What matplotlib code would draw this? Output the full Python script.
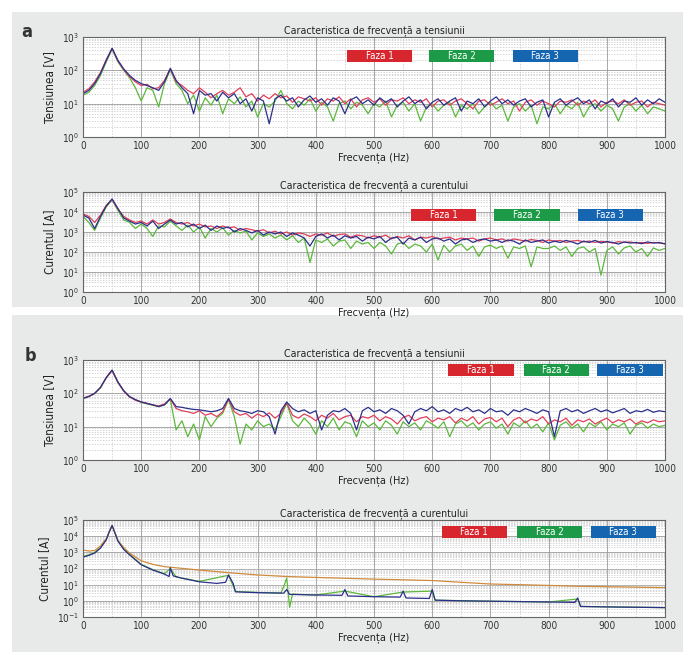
import numpy as np
import matplotlib
matplotlib.use('Agg')
import matplotlib.pyplot as plt
from matplotlib.patches import Rectangle
from matplotlib.ticker import LogLocator, MultipleLocator, NullFormatter

plt.rcParams['font.family'] = ['Liberation Sans Narrow', 'DejaVu Sans']
plt.rcParams['font.stretch'] = 'condensed'

# ---------------- data ----------------
freq_grid = np.arange(0, 1001, 10)  # FFT bins (Hz)
phase_labels = ['Faza 1', 'Faza 2', 'Faza 3']

# panel a - voltage [V]
va_f1 = [22, 28, 45, 85, 210, 450, 190, 105, 65, 45,
         35, 38, 28, 30, 50, 110, 45, 35, 25, 20,
         30, 22, 15, 20, 25, 18, 22, 30, 16, 20,
         12, 18, 14, 20, 15, 17, 11, 16, 14, 12,
         15, 9, 14, 12, 16, 10, 14, 8, 13, 15,
         11, 14, 9, 13, 12, 15, 10, 13, 11, 14,
         8, 12, 13, 9, 12, 14, 10, 7, 12, 13,
         9, 11, 14, 10, 12, 6, 11, 13, 9, 12,
         10, 8, 12, 11, 13, 9, 12, 10, 13, 8,
         11, 12, 10, 13, 9, 11, 12, 8, 11, 10,
         9]
va_f2 = [18, 22, 35, 70, 180, 430, 180, 100, 60, 30,
         12, 30, 25, 8, 40, 105, 40, 25, 10, 18,
         6, 15, 9, 18, 5, 14, 10, 16, 8, 12,
         4, 10, 8, 12, 25, 10, 7, 12, 9, 14,
         6, 11, 8, 3, 10, 12, 7, 11, 9, 5,
         10, 8, 12, 4, 9, 11, 6, 10, 3, 8,
         10, 6, 9, 11, 4, 9, 7, 10, 5, 8,
         11, 7, 9, 3, 8, 10, 6, 9, 2.5, 8,
         7, 10, 5, 9, 7, 11, 4, 8, 10, 6,
         9, 7, 3, 8, 10, 6, 9, 5, 8, 7,
         6]
va_f3 = [20, 25, 40, 80, 200, 460, 200, 110, 70, 50,
         40, 35, 30, 25, 45, 115, 50, 30, 20, 5,
         25, 18, 20, 12, 22, 15, 20, 10, 14, 6,
         15, 12, 2.5, 14, 18, 12, 15, 8, 13, 17,
         11, 14, 9, 15, 12, 5, 13, 16, 10, 13,
         9, 15, 11, 14, 8, 12, 16, 10, 13, 7,
         11, 14, 9, 12, 15, 6, 12, 10, 14, 8,
         12, 16, 10, 13, 9, 12, 14, 8, 11, 13,
         4, 11, 14, 9, 12, 15, 10, 13, 7, 12,
         10, 14, 8, 12, 11, 15, 9, 13, 10, 14,
         11]

# panel a - current [A]
ia_f1 = [8000, 6000, 3000, 7000, 22000, 42000, 14000, 6000, 4000, 3000,
         3500, 2500, 4000, 2500, 3000, 4500, 3000, 2500, 3000, 2000,
         2500, 1800, 2000, 1500, 2000, 1600, 1800, 1200, 1500, 1300,
         1100, 1300, 900, 1100, 800, 1000, 700, 900, 800, 600,
         800, 700, 900, 600, 750, 800, 550, 700, 650, 500,
         650, 550, 700, 450, 600, 500, 650, 400, 550, 500,
         600, 450, 500, 550, 400, 500, 450, 500, 350, 450,
         500, 400, 450, 350, 450, 400, 350, 420, 380, 300,
         400, 350, 380, 300, 350, 380, 320, 350, 300, 340,
         320, 280, 330, 300, 320, 280, 300, 270, 300, 280,
         260]
ia_f2 = [6000, 3000, 1200, 5000, 18000, 40000, 12000, 4000, 3000, 1500,
         2500, 1500, 600, 2000, 1800, 3500, 2000, 1200, 2200, 1000,
         1800, 500, 1500, 1000, 1600, 700, 1200, 900, 1100, 400,
         900, 600, 800, 500, 700, 400, 650, 300, 500, 30,
         400, 300, 450, 200, 350, 400, 150, 350, 250, 300,
         150, 300, 200, 80, 250, 300, 150, 250, 200, 100,
         250, 40, 220, 100, 200, 250, 120, 200, 60, 180,
         220, 150, 200, 50, 180, 150, 200, 18, 180, 150,
         150, 200, 120, 180, 60, 150, 180, 100, 150, 7,
         120, 180, 80, 160, 200, 100, 150, 60, 160, 120,
         150]
ia_f3 = [7000, 5000, 1500, 6000, 20000, 45000, 15000, 5000, 3500, 2500,
         3000, 2000, 3500, 1500, 2500, 4000, 2500, 3000, 1800, 2500,
         1500, 2200, 1200, 2000, 1500, 1800, 1000, 1500, 1200, 900,
         1200, 700, 1000, 800, 1000, 600, 900, 700, 500, 200,
         600, 800, 500, 700, 400, 650, 500, 600, 350, 550,
         450, 600, 300, 500, 550, 250, 500, 400, 550, 300,
         450, 500, 350, 450, 250, 400, 450, 300, 400, 450,
         350, 400, 300, 400, 350, 250, 400, 300, 350, 400,
         280, 350, 300, 380, 320, 250, 350, 300, 380, 280,
         330, 300, 250, 320, 280, 300, 260, 320, 280, 300,
         250]

# panel b - voltage [V]
vb_f1 = [72, 82, 100, 150, 290, 480, 210, 115, 78, 62,
         55, 50, 45, 42, 48, 68, 35, 30, 28, 25,
         30, 22, 25, 20, 28, 68, 28, 22, 25, 18,
         24, 20, 26, 18, 25, 52, 22, 18, 24, 20,
         15, 22, 18, 25, 16, 20, 22, 14, 20, 18,
         22, 15, 20, 17, 12, 19, 22, 15, 18, 20,
         14, 18, 16, 20, 13, 18, 15, 20, 12, 17,
         19, 14, 18, 10, 16, 19, 13, 17, 15, 20,
         12, 16, 14, 18, 11, 16, 14, 17, 12, 15,
         18, 13, 16, 14, 17, 12, 15, 13, 16, 14,
         15]
vb_f2 = [70, 80, 98, 145, 295, 490, 215, 118, 79, 64,
         54, 48, 44, 40, 46, 66, 8, 15, 5, 12,
         4, 20, 10, 18, 25, 65, 20, 3, 12, 8,
         15, 10, 12, 8, 20, 50, 15, 10, 18, 12,
         6, 15, 10, 18, 8, 14, 12, 5, 15, 10,
         13, 8, 15, 11, 6, 14, 10, 13, 8, 15,
         12, 9, 14, 5, 12, 15, 10, 13, 8, 12,
         14, 9, 12, 6, 13, 10, 15, 9, 12, 7,
         13, 4, 11, 14, 9, 12, 7, 13, 10, 14,
         8, 12, 10, 13, 6, 11, 13, 9, 12, 10,
         11]
vb_f3 = [70, 80, 100, 150, 300, 500, 220, 120, 80, 65,
         55, 50, 45, 40, 45, 70, 40, 38, 35, 33,
         32, 30, 28, 30, 35, 70, 35, 30, 28, 25,
         30, 28, 20, 6, 30, 55, 35, 28, 32, 25,
         30, 8, 22, 30, 28, 35, 25, 8, 30, 38,
         28, 32, 25, 35, 30, 22, 12, 28, 35, 30,
         40, 28, 32, 25, 35, 30, 38, 28, 32, 25,
         35, 28, 30, 22, 32, 28, 35, 30, 25, 32,
         28, 5, 30, 35, 28, 32, 25, 30, 35, 28,
         32, 26, 30, 35, 25, 30, 28, 33, 27, 30,
         28]

# panel b - current [A]
ib_f1_freq = [0, 10, 20, 30, 40, 45, 50, 55, 60, 70, 80, 100, 120, 140, 150,
              200, 250, 300, 350, 400, 450, 500, 550, 600, 650, 700, 750, 800,
              850, 900, 950, 1000]
ib_f1 = [1400, 1200, 1300, 2500, 7000, 18000, 45000, 16000, 5500, 2000, 900,
         300, 180, 130, 120, 80, 55, 40, 32, 28, 25, 22, 20, 18, 14, 11, 10, 9,
         8, 7.5, 7, 6.5]
ib_f2_freq = [0, 10, 20, 30, 40, 45, 50, 55, 60, 70, 80, 100, 120, 140, 150,
              160, 200, 250, 262, 300, 340, 345, 350, 355, 360, 400, 450, 500,
              550, 600, 605, 700, 800, 850, 855, 1000]
ib_f2 = [550, 700, 1000, 2000, 6500, 19000, 47000, 16000, 5200, 1600, 750, 180,
         85, 48, 100, 30, 16, 38, 3.8, 3.3, 3.0, 8, 25, 0.4, 2.6, 2.3, 4, 1.8,
         3.5, 4, 1.1, 0.95, 0.85, 1.3, 0.45, 0.38]
ib_f3_freq = [0, 10, 20, 30, 40, 45, 50, 55, 60, 70, 80, 100, 120, 140, 148,
              150, 155, 170, 200, 230, 245, 250, 258, 262, 300, 345, 350, 355,
              400, 445, 450, 455, 500, 545, 550, 555, 595, 600, 605, 650, 700,
              750, 800, 845, 850, 855, 900, 950, 1000]
ib_f3 = [500, 650, 900, 1800, 6000, 18000, 45000, 15000, 5000, 1500, 700, 170,
         80, 45, 32, 110, 35, 25, 15, 12, 14, 40, 12, 3.6, 3.2, 3.0, 5, 2.5,
         2.3, 2.2, 5, 2.0, 1.8, 1.7, 4, 1.5, 1.4, 5, 1.1, 1.0, 0.95, 0.9, 0.85,
         0.8, 1.5, 0.45, 0.42, 0.4, 0.38]

# ---------------- styling ----------------
line_red = '#e0405a'
line_green = '#5cb83c'
line_blue = '#2b2f8a'
line_orange = '#d08a3c'
box_colors = ['#d8262f', '#1d9a48', '#1565b0']
panel_grey = '#e8eae9'

W, H = 689, 655
fig = plt.figure(figsize=(6.89, 6.55), dpi=100)
fig.patch.set_facecolor('white')
fig.patches.append(Rectangle((12 / W, 1 - 307 / H), 671 / W, 295 / H,
                             transform=fig.transFigure, facecolor=panel_grey,
                             edgecolor='none', zorder=-10))
fig.patches.append(Rectangle((12 / W, 1 - 652 / H), 671 / W, 337 / H,
                             transform=fig.transFigure, facecolor=panel_grey,
                             edgecolor='none', zorder=-10))


def make_ax(top, bottom):
    return fig.add_axes([83 / W, 1 - bottom / H, 582 / W, (bottom - top) / H])


def style_ax(ax, ylim, title, ylabel):
    ax.set_facecolor('white')
    ax.set_yscale('log')
    ax.set_xlim(0, 1000)
    ax.set_ylim(*ylim)
    ax.xaxis.set_major_locator(MultipleLocator(100))
    ax.xaxis.set_minor_locator(MultipleLocator(50))
    ax.yaxis.set_major_locator(LogLocator(base=10, numticks=10))
    ax.yaxis.set_minor_locator(LogLocator(base=10, subs=np.arange(2, 10), numticks=20))
    ax.yaxis.set_minor_formatter(NullFormatter())
    ax.grid(True, which='major', color='#9a9a9a', lw=0.6)
    ax.grid(True, which='minor', color='#c4c4c4', lw=0.5, ls=(0, (2, 2)))
    ax.tick_params(which='both', length=0, labelsize=7.2, colors='#333333', pad=3)
    for s in ax.spines.values():
        s.set_color('#666666')
        s.set_linewidth(0.8)
    ax.set_title(title, fontsize=7.6, pad=3, color='#222222')
    ax.set_xlabel('Frecvența (Hz)', fontsize=7.8, labelpad=1, color='#222222')
    ax.set_ylabel(ylabel, fontsize=8.5, labelpad=4, color='#222222')
    ax.set_axisbelow(True)


def phase_boxes(ax, xs, y, h):
    for x, lab, col in zip(xs, phase_labels, box_colors):
        ax.add_patch(Rectangle((x - 0.056, y - h / 2), 0.112, h,
                               transform=ax.transAxes, facecolor=col,
                               edgecolor='none', zorder=5))
        ax.text(x, y, lab, transform=ax.transAxes, ha='center', va='center',
                color='white', fontsize=7, zorder=6)


title_v = 'Caracteristica de frecvență a tensiunii'
title_i = 'Caracteristica de frecvență a curentului'

# panel a voltage
ax1 = make_ax(37, 137)
ax1.plot(freq_grid, va_f2, color=line_green, lw=0.9)
ax1.plot(freq_grid, va_f1, color=line_red, lw=0.9)
ax1.plot(freq_grid, va_f3, color=line_blue, lw=0.9)
style_ax(ax1, (1, 1e3), title_v, 'Tensiunea [V]')
phase_boxes(ax1, [0.51, 0.651, 0.794], 0.81, 0.12)

# panel a current
ax2 = make_ax(192, 292)
ax2.plot(freq_grid, ia_f2, color=line_green, lw=0.9)
ax2.plot(freq_grid, ia_f1, color=line_red, lw=0.9)
ax2.plot(freq_grid, ia_f3, color=line_blue, lw=0.9)
style_ax(ax2, (1, 1e5), title_i, 'Curentul [A]')
phase_boxes(ax2, [0.62, 0.763, 0.906], 0.77, 0.12)

# panel b voltage
ax3 = make_ax(360, 460)
ax3.plot(freq_grid, vb_f2, color=line_green, lw=0.9)
ax3.plot(freq_grid, vb_f1, color=line_red, lw=0.9)
ax3.plot(freq_grid, vb_f3, color=line_blue, lw=0.9)
style_ax(ax3, (1, 1e3), title_v, 'Tensiunea [V]')
phase_boxes(ax3, [0.684, 0.813, 0.94], 0.9, 0.12)

# panel b current
ax4 = make_ax(520, 617)
ax4.plot(ib_f2_freq, ib_f2, color=line_green, lw=0.9)
ax4.plot(ib_f1_freq, ib_f1, color=line_orange, lw=0.9)
ax4.plot(ib_f3_freq, ib_f3, color=line_blue, lw=0.9)
style_ax(ax4, (0.1, 1e5), title_i, 'Curentul [A]')
phase_boxes(ax4, [0.672, 0.802, 0.928], 0.876, 0.124)

fig.text(27 / W, 1 - 32 / H, 'a', fontsize=13, fontweight='bold',
         ha='center', va='center', color='#333333', family='DejaVu Sans')
fig.text(30 / W, 1 - 356 / H, 'b', fontsize=13, fontweight='bold',
         ha='center', va='center', color='#333333', family='DejaVu Sans')

fig.savefig('out.png', dpi=100, facecolor='white')
